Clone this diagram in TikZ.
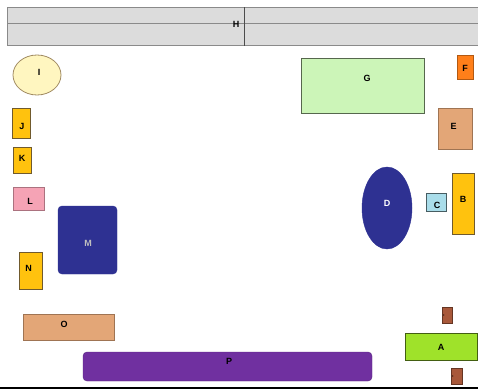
\documentclass[tikz,border=0pt]{standalone}
\usepackage{fontspec}
\setmainfont{Liberation Sans}
\usetikzlibrary{shapes.geometric}
\definecolor{hgray}{HTML}{DCDCDC}
\definecolor{hline}{HTML}{8A8A8A}
\definecolor{iyel}{HTML}{FFF6C0}
\definecolor{gold}{HTML}{FFC20E}
\definecolor{goldb}{HTML}{A08040}
\definecolor{lpink}{HTML}{F5A3B5}
\definecolor{mblue}{HTML}{2E3192}
\definecolor{otan}{HTML}{E3A677}
\definecolor{ppurp}{HTML}{7030A0}
\definecolor{ggreen}{HTML}{CCF5B8}
\definecolor{forange}{HTML}{FF7F1A}
\definecolor{cblue}{HTML}{A9DDEA}
\definecolor{alime}{HTML}{9FE22A}
\definecolor{door}{HTML}{A8583A}
\tikzset{
  lbl/.style={font=\fontsize{9}{10}\selectfont\bfseries, text=black, inner sep=0pt},
  box/.style={draw=#1!70!black, line width=0.8pt, inner sep=0pt},
}
\begin{document}
\begin{tikzpicture}[x=1pt,y=-1pt]
\useasboundingbox (0,0) rectangle (478,390);
\fill[white] (0,0) rectangle (478,390);
% H table
\fill[hgray] (7,7.5) rectangle (479,46);
\draw[hline, line width=1pt] (7,7.5) -- (479,7.5);
\draw[hline, line width=1pt] (7,24) -- (479,24);
\draw[hline, line width=1pt] (7,46) -- (479,46);
\draw[hline, line width=1pt] (7,7.5) -- (7,46);
\draw[black!70, line width=0.8pt] (244,7.5) -- (244,46);
\node[lbl] (H) at (236,24) {H};
% I
\node[ellipse, box=iyel!60!brown, fill=iyel, minimum width=48pt, minimum height=40pt] (I) at (37,75) {};
\node[lbl] (It) at (39,72) {I};
% left column
\node[box=goldb, fill=gold, minimum width=18pt, minimum height=30pt] (J) at (21.5,123) {};
\node[lbl] (Jt) at (22,126) {J};
\node[box=goldb, fill=gold, minimum width=18pt, minimum height=26pt] (K) at (22,160) {};
\node[lbl] (Kt) at (22,158) {K};
\node[box=lpink, fill=lpink, minimum width=31pt, minimum height=23pt] (L) at (28.5,198.5) {};
\node[lbl] (Lt) at (30,201) {L};
\node[box=goldb, fill=gold, minimum width=23pt, minimum height=37pt] (N) at (30.5,270.5) {};
\node[lbl] (Nt) at (28.5,268) {N};
\node[box=otan, fill=otan, minimum width=91pt, minimum height=26pt] (O) at (68.5,327) {};
\node[lbl] (Ot) at (64,324) {O};
% M
\node[rectangle, rounded corners=4pt, fill=mblue, draw=mblue, minimum width=59pt, minimum height=68pt, inner sep=0pt] (M) at (87.5,240) {};
\node[lbl, text=black!25] (Mt) at (88,243) {M};
% P
\node[rectangle, rounded corners=4pt, fill=ppurp, draw=ppurp!80!black, minimum width=289pt, minimum height=29pt, inner sep=0pt] (P) at (227.5,366.5) {};
\node[lbl] (Pt) at (229,361) {P};
% right side
\node[box=ggreen!60!black, fill=ggreen, minimum width=123pt, minimum height=55pt] (G) at (362.5,85.5) {};
\node[lbl] (Gt) at (367,78) {G};
\node[box=forange, fill=forange, minimum width=16pt, minimum height=24pt] (F) at (465,67) {};
\node[lbl] (Ft) at (465,68) {F};
\node[box=otan, fill=otan, minimum width=34pt, minimum height=41pt] (E) at (455,128.5) {};
\node[lbl] (Et) at (453.5,126) {E};
\node[ellipse, fill=mblue, draw=mblue, minimum width=50pt, minimum height=82pt, inner sep=0pt] (D) at (387,208) {};
\node[lbl, text=white] (Dt) at (387,203) {D};
\node[box=cblue!60!black, fill=cblue, minimum width=20pt, minimum height=18pt] (C) at (436,202) {};
\node[lbl] (Ct) at (437,205) {C};
\node[box=goldb, fill=gold, minimum width=22pt, minimum height=61pt] (B) at (463,203.5) {};
\node[lbl] (Bt) at (463,199) {B};
\node[box=alime!60!black, fill=alime, minimum width=72pt, minimum height=27pt] (A) at (441,346.5) {};
\node[lbl] (At) at (441,347) {A};
% doors
\node[draw=door!60!black, fill=door, minimum width=10pt, minimum height=16pt, inner sep=0pt] (door1) at (447,315) {};
\fill[black] ([xshift=2pt]door1.west) circle (0.6pt);
\node[draw=door!60!black, fill=door, minimum width=11pt, minimum height=16pt, inner sep=0pt] (door2) at (456.5,376) {};
\fill[black] ([xshift=2pt]door2.west) circle (0.6pt);
% bottom line
\draw[black, line width=2.5pt] (0,388) -- (478,388);
\end{tikzpicture}
\end{document}
